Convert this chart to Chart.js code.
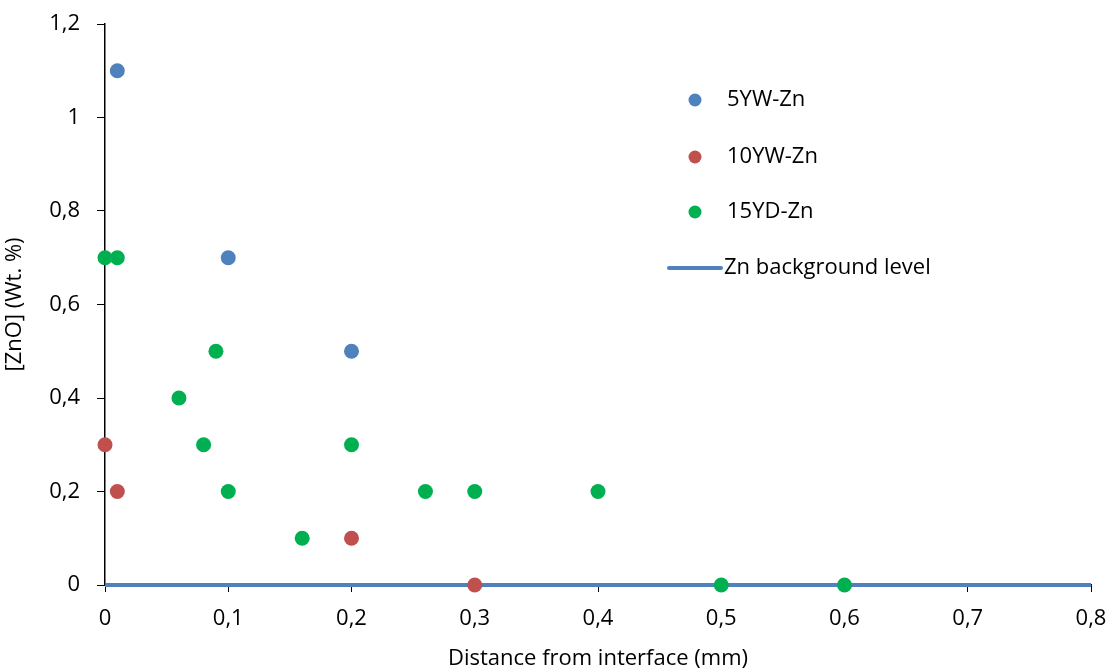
<!DOCTYPE html>
<html>
<head>
<meta charset="utf-8">
<script src="https://cdn.jsdelivr.net/npm/chart.js@4.4.1/dist/chart.umd.min.js"></script>
<style>
  html, body { margin: 0; padding: 0; background: #ffffff; }
  #wrap { width: 1112px; height: 672px; }
</style>
</head>
<body>
<div id="wrap"><canvas id="znChart" width="1112" height="672"></canvas></div>
<script>
// Data
const xTicks = [0, 0.1, 0.2, 0.3, 0.4, 0.5, 0.6, 0.7, 0.8];
const yTicks = [0, 0.2, 0.4, 0.6, 0.8, 1, 1.2];

const yw5X = [0.01, 0.1, 0.2];
const yw5Y = [1.1, 0.7, 0.5];

const yw10X = [0, 0.01, 0.2, 0.3];
const yw10Y = [0.3, 0.2, 0.1, 0];

const yd15X = [0, 0.01, 0.09, 0.06, 0.08, 0.1, 0.2, 0.16, 0.26, 0.3, 0.4, 0.5, 0.6];
const yd15Y = [0.7, 0.7, 0.5, 0.4, 0.3, 0.2, 0.3, 0.1, 0.2, 0.2, 0.2, 0, 0];

const bgX = [0, 0.8];
const bgY = [0, 0];

const FONT = "'Open Sans', sans-serif";
const FSIZE = 22;

function toPoints(xs, ys) {
    return xs.map((x, i) => ({ x: x, y: ys[i] }));
}

// comma decimal like the original
function fmt(v) {
    return String(Math.round(v * 10) / 10).replace(".", ",");
}

// Legend drawn inside the plot, right side
const sideLegend = {
    id: "sideLegend",
    afterDraw(chart) {
        const ctx = chart.ctx;
        const rows = [100, 157, 212, 268];
        ctx.save();
        ctx.font = FSIZE + "px " + FONT;
        ctx.textBaseline = "middle";
        chart.data.datasets.forEach((ds, i) => {
            const y = rows[i];
            if (ds.showLine) {
                ctx.strokeStyle = ds.borderColor;
                ctx.lineWidth = 4;
                ctx.lineCap = "round";
                ctx.beginPath();
                ctx.moveTo(669, y);
                ctx.lineTo(721, y);
                ctx.stroke();
                ctx.fillStyle = "#000000";
                ctx.fillText(ds.label, 724, y);
            } else {
                ctx.fillStyle = ds.backgroundColor;
                ctx.beginPath();
                ctx.arc(695, y, 6.5, 0, Math.PI * 2);
                ctx.fill();
                ctx.fillStyle = "#000000";
                ctx.fillText(ds.label, 727, y);
            }
        });
        ctx.restore();
    }
};

const znChart = new Chart(document.getElementById("znChart"), {
    type: "scatter",
    data: {
        datasets: [
            {
                label: "5YW-Zn",
                data: toPoints(yw5X, yw5Y),
                backgroundColor: "#4F81BD",
                borderColor: "#4F81BD",
                pointRadius: 7.5,
                borderWidth: 0,
                clip: false,
                order: 3
            },
            {
                label: "10YW-Zn",
                data: toPoints(yw10X, yw10Y),
                backgroundColor: "#C0504D",
                borderColor: "#C0504D",
                pointRadius: 7.5,
                borderWidth: 0,
                clip: false,
                order: 2
            },
            {
                label: "15YD-Zn",
                data: toPoints(yd15X, yd15Y),
                backgroundColor: "#00B050",
                borderColor: "#00B050",
                pointRadius: 7.5,
                borderWidth: 0,
                clip: false,
                order: 1
            },
            {
                label: "Zn background level",
                data: toPoints(bgX, bgY),
                showLine: true,
                borderColor: "#4F81BD",
                backgroundColor: "#4F81BD",
                borderWidth: 4,
                pointRadius: 0,
                clip: false,
                order: 4
            }
        ]
    },
    options: {
        responsive: false,
        animation: false,
        layout: { padding: { top: 24, right: 21, left: 0, bottom: 0 } },
        plugins: {
            legend: { display: false },
            tooltip: { enabled: false }
        },
        scales: {
            x: {
                type: "linear",
                min: 0,
                max: 0.8,
                afterBuildTicks: (scale) => { scale.ticks = xTicks.map(v => ({ value: v })); },
                afterFit: (scale) => {
                    scale.height = 87;
                    scale.paddingLeft = 0;
                    scale.paddingRight = 0;
                },
                ticks: {
                    callback: (v) => fmt(v),
                    color: "#000000",
                    font: { family: FONT, size: FSIZE },
                    padding: 14,
                    maxRotation: 0
                },
                grid: {
                    drawOnChartArea: false,
                    drawTicks: true,
                    tickLength: 7,
                    color: "#000000"
                },
                border: { display: true, color: "#000000", width: 1.5 },
                title: {
                    display: true,
                    text: "Distance from interface (mm)",
                    color: "#000000",
                    font: { family: FONT, size: FSIZE },
                    padding: { top: 0, bottom: 0 }
                }
            },
            y: {
                type: "linear",
                min: 0,
                max: 1.2,
                afterBuildTicks: (scale) => { scale.ticks = yTicks.map(v => ({ value: v })); },
                afterFit: (scale) => {
                    scale.width = 105;
                    scale.paddingTop = 0;
                    scale.paddingBottom = 0;
                },
                ticks: {
                    callback: (v) => fmt(v),
                    color: "#000000",
                    font: { family: FONT, size: FSIZE },
                    padding: 17
                },
                grid: {
                    drawOnChartArea: false,
                    drawTicks: true,
                    tickLength: 8,
                    color: "#000000"
                },
                border: { display: true, color: "#000000", width: 1.5 },
                title: {
                    display: true,
                    text: "[ZnO] (Wt. %)",
                    color: "#000000",
                    font: { family: FONT, size: FSIZE },
                    padding: { top: 2, bottom: 0 }
                }
            }
        }
    },
    plugins: [sideLegend]
});
</script>
</body>
</html>
